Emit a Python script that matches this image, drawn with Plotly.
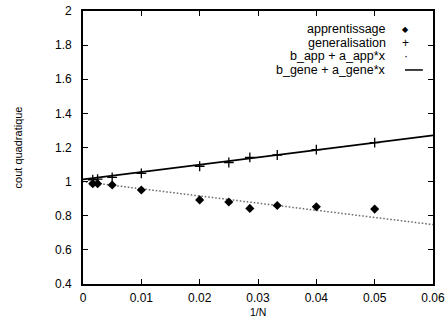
import plotly.graph_objects as go

# data
inv_n = [0.00167, 0.0025, 0.005, 0.01, 0.02, 0.025, 0.0286, 0.0333, 0.04, 0.05]
apprentissage = [0.988, 0.988, 0.980, 0.951, 0.893, 0.881, 0.843, 0.860, 0.853, 0.839]
generalisation = [1.011, 1.015, 1.025, 1.048, 1.090, 1.112, 1.142, 1.156, 1.187, 1.228]
b_app, a_app = 1.0, -4.2
b_gene, a_gene = 1.013, 4.3
x_fit = [i * 0.0006 for i in range(101)]

legend_labels = ["apprentissage", "generalisation", "b_app + a_app*x", "b_gene + a_gene*x"]
x_title = "1/N"
y_title = "cout quadratique"

FONT = "Liberation Sans, Arial, sans-serif"

fig = go.Figure()
fig.add_trace(go.Scatter(x=x_fit, y=[b_gene + a_gene * x for x in x_fit], mode="lines",
                         line=dict(color="black", width=1.6), name=legend_labels[3]))
fig.add_trace(go.Scatter(x=x_fit, y=[b_app + a_app * x for x in x_fit], mode="markers",
                         marker=dict(color="#666", size=1.5, symbol="square"), name=legend_labels[2]))
fig.add_trace(go.Scatter(x=inv_n, y=generalisation, mode="markers",
                         marker=dict(symbol="cross-thin", size=7, line=dict(color="black", width=1.3)),
                         name=legend_labels[1]))
fig.add_trace(go.Scatter(x=inv_n, y=apprentissage, mode="markers",
                         marker=dict(symbol="diamond", size=7, color="black"),
                         name=legend_labels[0]))

# legend: text right-aligned with key on the right (gnuplot style)
rows_y = [0.933, 0.884, 0.835, 0.784]
keys = ["◆", "+", "·", None]
for lab, yy, k in zip(legend_labels, rows_y, keys):
    fig.add_annotation(x=0.869, y=yy, xref="paper", yref="paper", text=lab, showarrow=False,
                       xanchor="right", yanchor="middle", borderpad=0,
                       font=dict(family=FONT, size=12.5, color="black"))
    if k is not None:
        fig.add_annotation(x=0.922, y=yy, xref="paper", yref="paper", text=k, showarrow=False,
                           xanchor="center", yanchor="middle", borderpad=0,
                           font=dict(family=FONT, size=8 if k == "◆" else 12, color="black"))
fig.add_shape(type="line", xref="paper", yref="paper", x0=0.92, x1=0.971, y0=rows_y[3], y1=rows_y[3],
              line=dict(color="black", width=1.5))

# x axis title placed just under the tick labels
fig.add_annotation(x=0.5, y=-0.1035, xref="paper", yref="paper", text=x_title, showarrow=False,
                   xanchor="center", yanchor="middle", borderpad=0,
                   font=dict(family=FONT, size=10.5, color="black"))

axis_common = dict(showline=True, linecolor="black", linewidth=1.6, mirror="ticks", ticks="inside",
                   ticklen=5, tickwidth=1, tickcolor="black", showgrid=False, zeroline=False,
                   automargin=False, tickfont=dict(family=FONT, size=12, color="black"))
fig.update_xaxes(range=[0, 0.06], dtick=0.01, tick0=0, ticklabelstandoff=2, **axis_common)
fig.update_yaxes(range=[0.4, 2], dtick=0.2, tick0=0.4, ticklabelstandoff=7,
                 title=dict(text=y_title, font=dict(family=FONT, size=11, color="black"), standoff=30),
                 **axis_common)
fig.update_layout(width=446, height=320, margin=dict(l=83, r=13, t=11, b=36),
                  plot_bgcolor="white", paper_bgcolor="white", showlegend=False)
fig.write_html("out.html")
